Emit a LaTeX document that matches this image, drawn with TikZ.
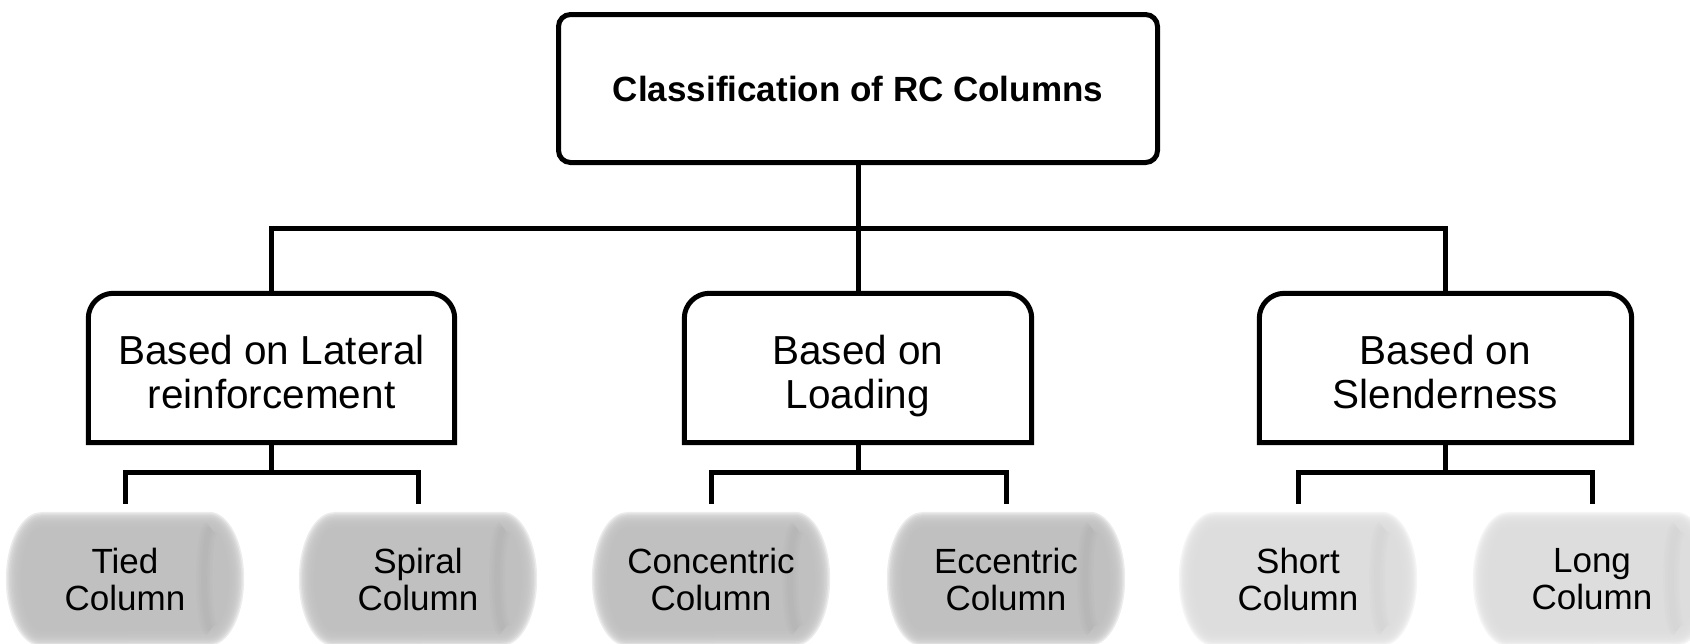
\documentclass[tikz,border=0pt]{standalone}
\usepackage{fontspec}
\setmainfont{Liberation Sans}
\usetikzlibrary{backgrounds}

\definecolor{leafdark}{HTML}{C0C0C0}
\definecolor{leaflight}{HTML}{DDDDDD}
\definecolor{banddark}{HTML}{A8A8A8}
\definecolor{bandlight}{HTML}{CACACA}

% Outline of a leaf: a flat can lying on its side, inset by #2
\newcommand\leafpath[2]{%
  ([xshift=30pt,yshift=-(#2)]#1.north west) -- ([xshift=-30pt,yshift=-(#2)]#1.north east)
  arc[start angle=90,end angle=-90,x radius=30pt-(#2),y radius=62pt-(#2)]
  -- ([xshift=30pt,yshift=#2]#1.south west)
  arc[start angle=270,end angle=90,x radius=30pt-(#2),y radius=62pt-(#2)] -- cycle}

% Soft-edged leaf body: #1 node, #2 body colour, #3 colour of the end band
\newcommand\leafbody[3]{%
  \foreach \d in {-5,-3.5,...,8.5} {\fill[#2, fill opacity=0.3] \leafpath{#1}{\d pt};}
  \fill[#2] \leafpath{#1}{10pt};
  \foreach \w in {16,11,6} {\draw[#3, line width=\w pt, draw opacity=0.12]
    ([xshift=-28pt,yshift=-12pt]#1.north east) arc[start angle=90,end angle=270,x radius=7pt,y radius=50pt];}
}

% Group box: rounded top corners, square bottom corners; the frame sits
% 4pt above the text block, and its top and bottom mid points are named
\newcommand\groupoutline[1]{%
  \coordinate (#1-top) at ([yshift=4pt]#1.north);
  \coordinate (#1-bot) at ([yshift=4pt]#1.south);
  \draw[link] ([yshift=4pt]#1.south west) -- ([yshift=-21pt]#1.north west)
    arc[start angle=180,end angle=90,radius=25pt] -- ([xshift=-25pt,yshift=4pt]#1.north east)
    arc[start angle=90,end angle=0,radius=25pt] -- ([yshift=4pt]#1.south east) -- cycle;}

\begin{document}
\begin{tikzpicture}[x=1pt,y=-1pt,
  link/.style={line width=5pt, line join=miter, line cap=butt},
  rootbox/.style={draw, line width=5pt, rounded corners=12pt, minimum width=599pt,
    minimum height=148pt, inner sep=0pt, align=center,
    font=\fontsize{35}{40}\selectfont\bfseries},
  groupbox/.style={minimum height=149pt, inner sep=0pt, align=center, text depth=0pt,
    font=\fontsize{40.5}{44}\selectfont},
  leaf/.style={minimum width=228pt, minimum height=124pt, inner sep=0pt, align=center,
    font=\fontsize{35}{37}\selectfont},
]
\useasboundingbox (0,0) rectangle (1690,643);

% root and the three groups
\node[rootbox] (root) at (858,88.5) {Classification of RC Columns};
\node[groupbox, minimum width=366pt] (lat)  at (271.5,372) {Based on Lateral\\reinforcement};
\node[groupbox, minimum width=347pt] (load) at (858,372)   {Based on\\Loading};
\node[groupbox, minimum width=372pt] (slen) at (1445.5,372) {Based on\\Slenderness};
\groupoutline{lat}
\groupoutline{load}
\groupoutline{slen}

% leaves
\node[leaf] (tied)   at (125,579)  {Tied\\Column};
\node[leaf] (spiral) at (418,579)  {Spiral\\Column};
\node[leaf] (conc)   at (711,579)  {Concentric\\Column};
\node[leaf] (ecc)    at (1006,579) {Eccentric\\Column};
\node[leaf] (short)  at (1298,579) {Short\\Column};
\node[leaf] (long)   at (1592,579) {Long\\Column};

\begin{pgfonlayer}{background}
  \clip (0,0) rectangle (1690,643);
  \leafbody{tied}{leafdark}{banddark}
  \leafbody{spiral}{leafdark}{banddark}
  \leafbody{conc}{leafdark}{banddark}
  \leafbody{ecc}{leafdark}{banddark}
  \leafbody{short}{leaflight}{bandlight}
  \leafbody{long}{leaflight}{bandlight}
\end{pgfonlayer}

% connectors
\coordinate (bus) at (0,228);
\coordinate (subbus) at (0,472);
\draw[link] (root.south) -- (root.south |- bus);
\draw[link] (lat-top) -- (lat-top |- bus) -- (slen-top |- bus) -- (slen-top);
\draw[link] (load-top) -- (load-top |- bus);

\draw[link] (lat-bot) -- (lat-bot |- subbus);
\draw[link] ([yshift=13pt]tied.north) -- (tied.north |- subbus) -- (spiral.north |- subbus) -- ([yshift=13pt]spiral.north);
\draw[link] (load-bot) -- (load-bot |- subbus);
\draw[link] ([yshift=13pt]conc.north) -- (conc.north |- subbus) -- (ecc.north |- subbus) -- ([yshift=13pt]ecc.north);
\draw[link] (slen-bot) -- (slen-bot |- subbus);
\draw[link] ([yshift=13pt]short.north) -- (short.north |- subbus) -- (long.north |- subbus) -- ([yshift=13pt]long.north);
\end{tikzpicture}
\end{document}
